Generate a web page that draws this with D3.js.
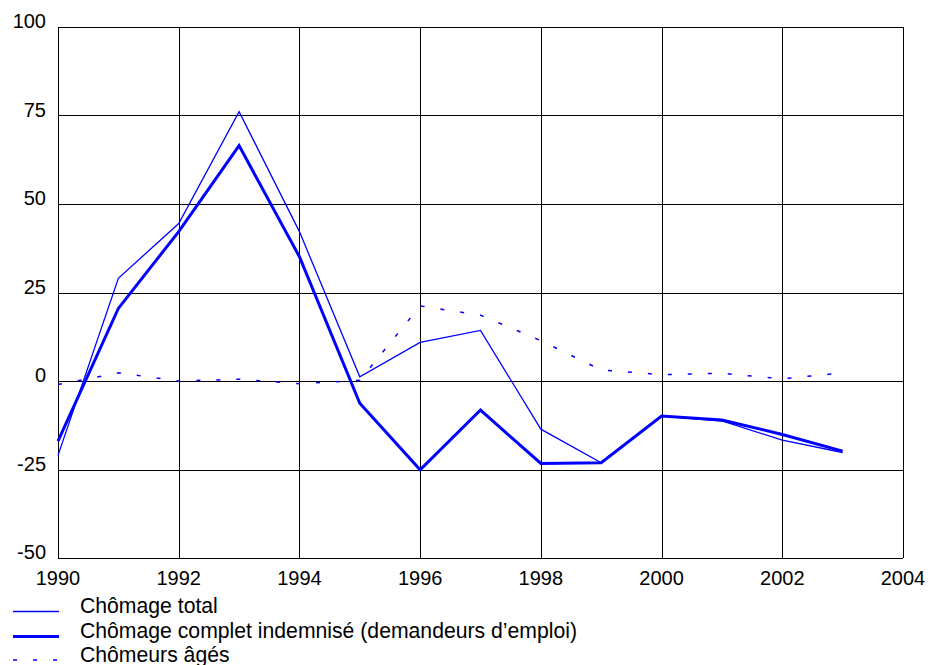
<!DOCTYPE html>
<html><head><meta charset="utf-8">
<script src="https://cdn.jsdelivr.net/npm/d3@7"></script>
<style>
html,body{margin:0;padding:0;background:#fff;}
svg{display:block;font-family:Arial,"Liberation Sans",sans-serif;}
</style></head>
<body>
<svg id="chart" width="936" height="665"></svg>
<script>
const years = [1990,1991,1992,1993,1994,1995,1996,1997,1998,1999,2000,2001,2002,2003];
const chomageTotal = [-21,29,44.5,76.1,42.2,1.2,10.9,14.3,-13.6,-23.1,-9.9,-11.3,-16.7,-20.2];
const chomageIndemnise = [-17,20.5,42.2,66.5,35.1,-6.3,-25.1,-8.2,-23.3,-23.1,-9.9,-11.0,-15.1,-19.8];
const chomeursAges = [-1,2.3,0,0.5,-0.8,0.2,21.2,18.6,11.4,3.1,1.8,2.2,0.6,2.3];
const xTicks = [1990,1992,1994,1996,1998,2000,2002,2004];
const yTicks = [-50,-25,0,25,50,75,100];
const seriesNames = ["Chômage total","Chômage complet indemnisé (demandeurs d\u2019emploi)","Chômeurs âgés"];

const svg = d3.select("#chart");
const L = 58, R = 903, T = 27, B = 558;
const x = d3.scaleLinear().domain([1990,2004]).range([L,R]);
const y = d3.scaleLinear().domain([-50,100]).range([B,T]);
const blue = "#0000ff";

// grid
const g = svg.append("g").attr("shape-rendering","crispEdges");
g.selectAll(".vg").data(xTicks).join("line")
  .attr("x1",d=>Math.round(x(d))+0.5).attr("x2",d=>Math.round(x(d))+0.5)
  .attr("y1",T).attr("y2",B).attr("stroke","#000").attr("stroke-width",1);
g.selectAll(".hg").data(yTicks).join("line")
  .attr("x1",L).attr("x2",R)
  .attr("y1",d=>Math.round(y(d))+0.5).attr("y2",d=>Math.round(y(d))+0.5)
  .attr("stroke","#000").attr("stroke-width",1);

// axis labels
svg.selectAll(".yl").data(yTicks).join("text")
  .attr("x",46).attr("y",d=>y(d)+1).attr("text-anchor","end")
  .attr("font-size",20).attr("fill","#000").text(d=>d);
svg.selectAll(".xl").data(xTicks).join("text")
  .attr("x",d=>x(d)).attr("y",585).attr("text-anchor","middle")
  .attr("font-size",20).attr("fill","#000").text(d=>d);

const line = vals => d3.line().x((d,i)=>x(years[i])).y(d=>y(d))(vals);

svg.append("path").attr("d",line(chomeursAges)).attr("fill","none")
  .attr("stroke",blue).attr("stroke-width",1.5).attr("stroke-dasharray","4,16");
svg.append("path").attr("d",line(chomageTotal)).attr("fill","none")
  .attr("stroke",blue).attr("stroke-width",1.3);
svg.append("path").attr("d",line(chomageIndemnise)).attr("fill","none")
  .attr("stroke",blue).attr("stroke-width",3);

// legend
const legY = [611.5,636.5,660];
const legStyles = [{w:1.3,dash:null},{w:3,dash:null},{w:1.5,dash:"4,16"}];
seriesNames.forEach((name,i)=>{
  const ln = svg.append("line").attr("x1",13).attr("x2",59)
    .attr("y1",legY[i]).attr("y2",legY[i]).attr("stroke",blue).attr("stroke-width",legStyles[i].w);
  if(legStyles[i].dash) ln.attr("stroke-dasharray",legStyles[i].dash);
  svg.append("text").attr("x",80).attr("y",legY[i]+1.5)
    .attr("font-size",21.2).attr("fill","#000").text(name);
});
</script>
</body></html>
